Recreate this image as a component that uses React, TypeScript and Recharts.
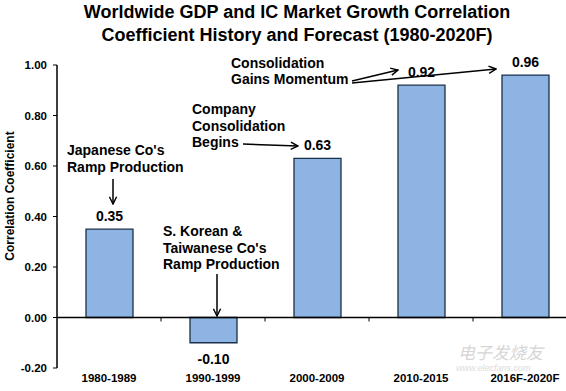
import { Bar, BarChart, LabelList, ReferenceLine, XAxis, YAxis } from "recharts";

const periods = ["1980-1989", "1990-1999", "2000-2009", "2010-2015", "2016F-2020F"];
const coefficients = [0.35, -0.1, 0.63, 0.92, 0.96];
const yTicks = [-0.2, 0, 0.2, 0.4, 0.6, 0.8, 1.0];
const titleLines = [
  "Worldwide GDP and IC Market Growth Correlation",
  "Coefficient History and Forecast (1980-2020F)",
];
const yLabel = "Correlation Coefficient";

const data = periods.map((period, i) => ({ period, value: coefficients[i] }));

const FONT = '"Liberation Sans", Arial, Helvetica, sans-serif';
const CHART_W = 580;
const CHART_H = 391;
const PLOT_LEFT = 57;
const PLOT_TOP = 65;
const PLOT_BOTTOM = 368;
const PLOT_RIGHT = CHART_W - 3;
const CAT_W = (PLOT_RIGHT - PLOT_LEFT) / periods.length;
const ZERO_Y = PLOT_TOP + (1.0 / 1.2) * (PLOT_BOTTOM - PLOT_TOP);

function ValueLabel(props: any) {
  const { x, y, width, height, value } = props;
  const v = Number(value);
  const top = Math.min(y, y + height);
  const bottom = Math.max(y, y + height);
  return (
    <text
      x={x + width / 2}
      y={v >= 0 ? top - 8 : bottom + 21}
      textAnchor="middle"
      fontFamily={FONT}
      fontWeight="bold"
      fontSize={14}
      fill="#000"
    >
      {v.toFixed(2)}
    </text>
  );
}

const txt = {
  fontFamily: FONT,
  fontWeight: "bold" as const,
  fontSize: 14,
  fill: "#000",
};

export default function App() {
  return (
    <div
      style={{
        position: "fixed",
        left: 0,
        top: 0,
        width: 566,
        height: 391,
        overflow: "hidden",
        background: "#fff",
      }}
    >
      <BarChart
        width={CHART_W}
        height={CHART_H}
        data={data}
        margin={{ top: PLOT_TOP, right: 3, left: 0, bottom: 0 }}
      >
        <XAxis
          dataKey="period"
          height={CHART_H - PLOT_BOTTOM}
          axisLine={false}
          tickLine={false}
          tickSize={4}
          tickMargin={2}
          interval={0}
          tick={{ fill: "#000", fontSize: 11.5, fontWeight: "bold", fontFamily: FONT }}
        />
        <YAxis
          width={PLOT_LEFT}
          domain={[-0.2, 1]}
          ticks={yTicks}
          interval={0}
          tickFormatter={(v: number) => v.toFixed(2)}
          axisLine={{ stroke: "#000", strokeWidth: 1.5 }}
          tickLine={{ stroke: "#000" }}
          tickSize={4}
          tickMargin={6}
          tick={{ fill: "#000", fontSize: 11.5, fontWeight: "bold", fontFamily: FONT }}
        />
        <ReferenceLine y={0} stroke="#000" strokeWidth={1.5} />
        <Bar
          dataKey="value"
          barSize={47}
          fill="#8db4e2"
          stroke="#1a2f4a"
          strokeWidth={1.3}
          isAnimationActive={false}
        >
          <LabelList dataKey="value" content={ValueLabel} />
        </Bar>
      </BarChart>

      <svg
        width={566}
        height={391}
        style={{ position: "absolute", left: 0, top: 0, pointerEvents: "none" }}
      >
        <defs>
          <marker
            id="head"
            viewBox="0 0 10 10"
            refX="9"
            refY="5"
            markerWidth="9"
            markerHeight="9"
            orient="auto"
            markerUnits="userSpaceOnUse"
          >
            <path d="M1,1 L9,5 L1,9" fill="none" stroke="#000" strokeWidth="1.6" />
          </marker>
        </defs>

        {titleLines.map((line, i) => (
          <text
            key={line}
            x={297}
            y={18 + i * 22.5}
            textAnchor="middle"
            fontFamily={FONT}
            fontWeight="bold"
            fontSize={18}
            fill="#000"
          >
            {line}
          </text>
        ))}

        <text
          transform="translate(14,196) rotate(-90)"
          textAnchor="middle"
          fontFamily={FONT}
          fontWeight="bold"
          fontSize={12}
          fill="#000"
        >
          {yLabel}
        </text>

        {[1, 2, 3, 4].map((i) => (
          <line
            key={i}
            x1={PLOT_LEFT + i * CAT_W}
            x2={PLOT_LEFT + i * CAT_W}
            y1={ZERO_Y}
            y2={ZERO_Y + 4}
            stroke="#000"
            strokeWidth={1}
          />
        ))}

        <text {...txt} x={67} y={155}>Japanese Co's</text>
        <text {...txt} x={67} y={172}>Ramp Production</text>
        <line x1={113} y1={179} x2={113} y2={204} stroke="#000" strokeWidth={1.5} markerEnd="url(#head)" />

        <text {...txt} x={163} y={236}>S. Korean &amp;</text>
        <text {...txt} x={163} y={253}>Taiwanese Co's</text>
        <text {...txt} x={163} y={269}>Ramp Production</text>
        <line x1={217} y1={274} x2={217} y2={316} stroke="#000" strokeWidth={1.5} markerEnd="url(#head)" />

        <text {...txt} x={192} y={114}>Company</text>
        <text {...txt} x={192} y={131}>Consolidation</text>
        <text {...txt} x={192} y={147}>Begins</text>
        <line x1={243} y1={144} x2={298} y2={146} stroke="#000" strokeWidth={1.5} markerEnd="url(#head)" />

        <text {...txt} x={231} y={68}>Consolidation</text>
        <text {...txt} x={231} y={84}>Gains Momentum</text>
        <line x1={352} y1={81} x2={398} y2={70} stroke="#000" strokeWidth={1.5} markerEnd="url(#head)" />
        <line x1={352} y1={83} x2={496} y2={69} stroke="#000" strokeWidth={1.5} markerEnd="url(#head)" />

        <text
          x={458}
          y={359}
          fontFamily='"Noto Sans CJK SC", sans-serif'
          fontSize={17}
          fontStyle="italic"
          fill="#d6d6d6"
        >
          电子发烧友
        </text>
        <text x={456} y={371} fontFamily={FONT} fontSize={9} fontStyle="italic" fill="#dcdcdc">
          www.elecfans.com
        </text>
      </svg>
    </div>
  );
}
